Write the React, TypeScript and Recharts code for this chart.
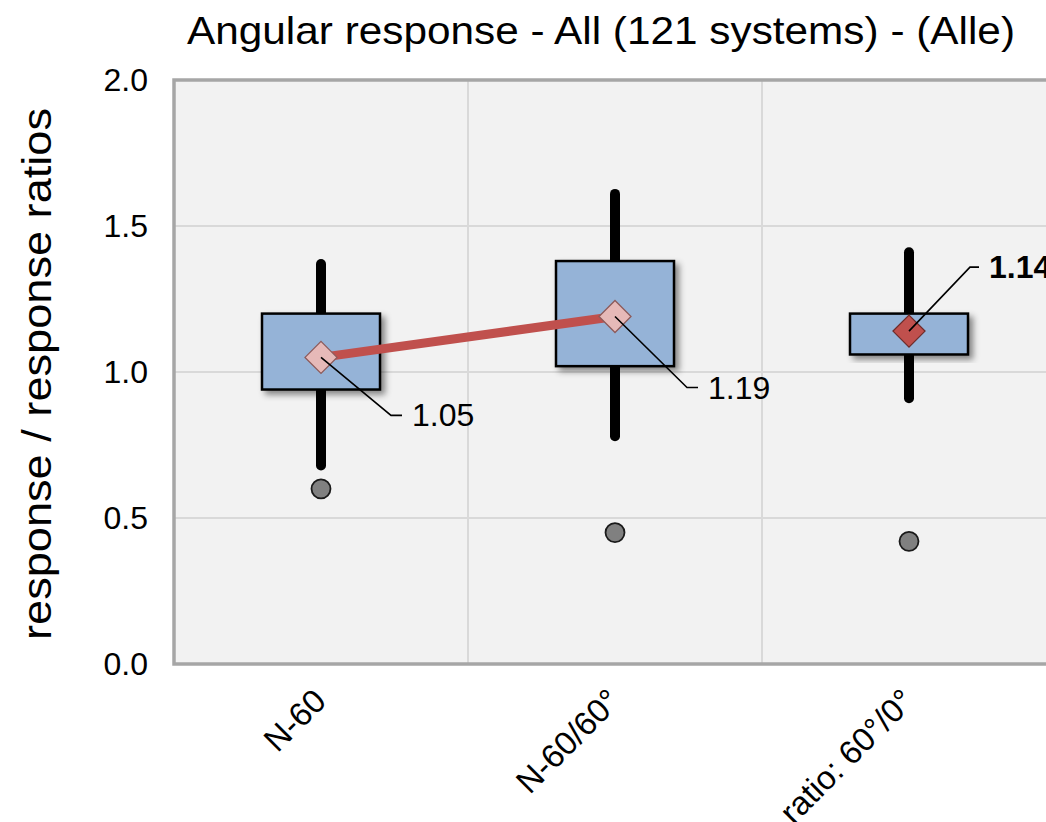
import { ComposedChart, Bar, Line, XAxis, YAxis, CartesianGrid, ReferenceArea } from 'recharts';

const categories = ['N-60', 'N-60/60°', 'ratio: 60°/0°'];
const whiskerLow = [0.68, 0.78, 0.91];
const whiskerHigh = [1.37, 1.61, 1.41];
const boxLow = [0.94, 1.02, 1.06];
const boxHigh = [1.2, 1.38, 1.2];
const means = [1.05, 1.19, 1.14];
const outliers = [0.6, 0.45, 0.42];
const yTicks = [0, 0.5, 1, 1.5, 2];

// the first two means are joined, the ratio stands alone
const data = categories.map((name, i) => ({
  name,
  whisker: [whiskerLow[i], whiskerHigh[i]],
  box: [boxLow[i], boxHigh[i]],
  trend: i < 2 ? means[i] : null,
  ratio: i === 2 ? means[i] : null,
  outlier: outliers[i],
}));

// leader line placement for each mean label: [diagonal dx, dy]
const leaders: Record<string, [number, number]> = {
  'N-60': [70, 58],
  'N-60/60°': [72, 71],
  'ratio: 60°/0°': [61, -64],
};

const FONT = '"Liberation Sans", Arial, sans-serif';

function Whisker(props: any) {
  const { x, y, width, height } = props;
  const cx = x + width / 2;
  const top = Math.min(y, y + height);
  const bot = Math.max(y, y + height);
  return <line x1={cx} x2={cx} y1={top} y2={bot} stroke="#000" strokeWidth={10} strokeLinecap="round" />;
}

function Box(props: any) {
  const { x, y, width, height } = props;
  const top = Math.min(y, y + height);
  const h = Math.abs(height);
  return (
    <g>
      <defs>
        <filter id="boxShadow" x="-20%" y="-20%" width="140%" height="140%">
          <feDropShadow dx="4" dy="4" stdDeviation="3" floodColor="#000" floodOpacity="0.45" />
        </filter>
      </defs>
      <rect x={x} y={top} width={width} height={h} fill="#95B3D7" stroke="#000" strokeWidth={2.5} filter="url(#boxShadow)" />
    </g>
  );
}

function meanDot(fill: string, stroke: string, bold: boolean) {
  return (props: any) => {
    const { cx, cy, index, value, payload } = props;
    if (cx == null || cy == null || value == null) return <g key={`m-${index}`} />;
    const s = 16;
    const [dx, dy] = leaders[payload.name];
    const ex = cx + dx;
    const ey = cy + dy;
    const gap = bold ? 9 : 11;
    return (
      <g key={`m-${index}`}>
        <polygon
          points={`${cx},${cy - s} ${cx + s},${cy} ${cx},${cy + s} ${cx - s},${cy}`}
          fill={fill}
          stroke={stroke}
          strokeWidth={1.3}
        />
        <polyline points={`${cx},${cy} ${ex},${ey} ${ex + gap},${ey}`} fill="none" stroke="#000" strokeWidth={1.6} />
        <text x={ex + gap + 10} y={ey + 11} fontSize={32} fontWeight={bold ? 'bold' : 'normal'} fill="#000" fontFamily={FONT}>
          {Number(value).toFixed(2)}
        </text>
      </g>
    );
  };
}

function outlierDot(props: any) {
  const { cx, cy, index } = props;
  if (cx == null || cy == null) return <g key={`o-${index}`} />;
  return <circle key={`o-${index}`} cx={cx} cy={cy} r={9.5} fill="#808080" stroke="#1a1a1a" strokeWidth={1.8} />;
}

function XTick(props: any) {
  const { x, y, payload } = props;
  const ax = x + 7;
  const ay = y + 37;
  return (
    <text x={ax} y={ay} textAnchor="end" fontSize={33} fill="#000" fontFamily={FONT} transform={`rotate(-45 ${ax} ${ay})`}>
      {payload.value}
    </text>
  );
}

export default function App() {
  return (
    <div style={{ position: 'fixed', left: 0, top: 0, width: 1046, height: 822, overflow: 'hidden', background: '#fff', fontFamily: FONT }}>
      <ComposedChart width={1060} height={822} data={data} margin={{ top: 80, right: 4, bottom: 0, left: 0 }}>
        <CartesianGrid
          fill="#F2F2F2"
          stroke="#D9D9D9"
          strokeWidth={2}
          verticalCoordinatesGenerator={({ offset }: any) =>
            categories.slice(1).map((_, k) => offset.left + (offset.width * (k + 1)) / categories.length)
          }
        />
        <XAxis dataKey="name" height={158} axisLine={false} tickLine={false} tickSize={0} interval={0} tick={<XTick />} />
        <XAxis xAxisId="w" dataKey="name" hide />
        <YAxis
          domain={[0, 2]}
          ticks={yTicks}
          width={174}
          axisLine={false}
          tickLine={false}
          tickSize={8}
          tickMargin={18}
          tickFormatter={(v: number) => v.toFixed(1)}
          tick={{ fontSize: 32, fill: '#000', fontFamily: FONT }}
        />
        <Bar xAxisId="w" dataKey="whisker" barSize={10} shape={<Whisker />} isAnimationActive={false} />
        <Bar dataKey="box" barSize={118} shape={<Box />} isAnimationActive={false} />
        <Line
          dataKey="trend"
          stroke="#C0504D"
          strokeWidth={9}
          connectNulls={false}
          dot={meanDot('#E6B9B8', '#8C5A5A', false)}
          activeDot={false}
          isAnimationActive={false}
        />
        <Line dataKey="ratio" stroke="none" dot={meanDot('#C0504D', '#6E2B29', true)} activeDot={false} isAnimationActive={false} />
        <Line dataKey="outlier" stroke="none" dot={outlierDot} activeDot={false} isAnimationActive={false} />
        <ReferenceArea y1={0} y2={2} fill="none" stroke="#A6A6A6" strokeWidth={3.5} />
      </ComposedChart>
      <svg width={1046} height={822} style={{ position: 'absolute', left: 0, top: 0, pointerEvents: 'none' }}>
        <text x={601} y={44} textAnchor="middle" fontSize={39} fill="#000" fontFamily={FONT} textLength={828} lengthAdjust="spacingAndGlyphs">
          Angular response - All (121 systems) - (Alle)
        </text>
        <text
          x={51}
          y={374}
          textAnchor="middle"
          fontSize={40}
          fill="#000"
          fontFamily={FONT}
          transform="rotate(-90 51 374)"
          textLength={532}
          lengthAdjust="spacingAndGlyphs"
        >
          response / response ratios
        </text>
      </svg>
    </div>
  );
}
